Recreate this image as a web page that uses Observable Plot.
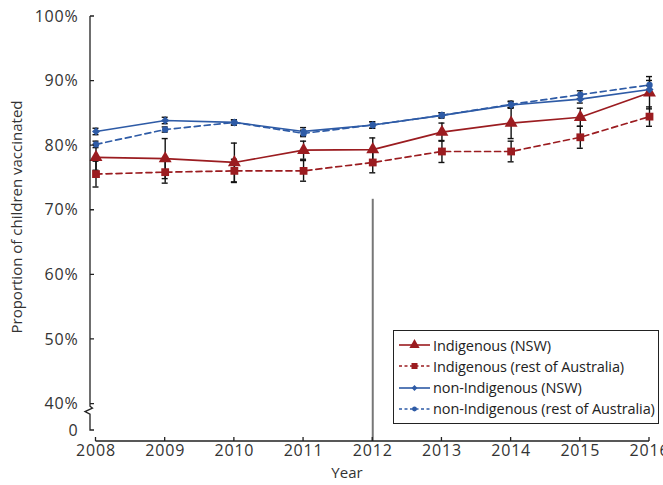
<!DOCTYPE html>
<html>
<head>
<meta charset="utf-8">
<script src="https://cdn.jsdelivr.net/npm/d3@7"></script>
<script src="https://cdn.jsdelivr.net/npm/@observablehq/plot@0.6"></script>
<style>
  html, body { margin: 0; padding: 0; background: #fff; }
  #chart { position: relative; width: 663px; height: 485px; font-family: "Open Sans", sans-serif; color: #222; }
  #chart svg { overflow: visible; }
  .legend { position: absolute; left: 393px; top: 330px; width: 266px; height: 94px;
            border: 1px solid #222; background: #fff; box-sizing: border-box; }
  .legend .row { position: absolute; left: 4px; height: 16px; display: flex; align-items: center;
                 font-size: 14.5px; white-space: nowrap; letter-spacing: -0.1px; }
  .legend svg { margin-right: 1px; }
</style>
</head>
<body>
<div id="chart"></div>
<script>
// Survey years
const years = [2008, 2009, 2010, 2011, 2012, 2013, 2014, 2015, 2016];

// Proportion of children vaccinated (%) and 95% CI half-widths
const indigenousNSW       = [78.2, 78.0, 77.4, 79.3, 79.4, 82.1, 83.5, 84.4, 88.2];
const indigenousNSWci     = [2.0, 3.1, 3.0, 1.4, 1.8, 1.4, 2.4, 1.4, 2.5];
const indigenousRest      = [75.6, 75.9, 76.1, 76.1, 77.4, 79.1, 79.1, 81.3, 84.5];
const indigenousRestCi    = [2.0, 1.7, 1.8, 1.6, 1.6, 1.7, 1.6, 1.7, 1.5];
const nonIndigenousNSW    = [82.2, 83.9, 83.6, 82.2, 83.2, 84.7, 86.3, 87.2, 88.7];
const nonIndigenousNSWci  = [0.5, 0.5, 0.4, 0.6, 0.5, 0.4, 0.5, 0.6, 0.6];
const nonIndigenousRest   = [80.2, 82.5, 83.6, 81.9, 83.2, 84.7, 86.4, 87.9, 89.4];
const nonIndigenousRestCi = [0.5, 0.4, 0.4, 0.5, 0.5, 0.4, 0.5, 0.6, 0.7];

// Axis ticks
const yTicks = [40, 50, 60, 70, 80, 90, 100];
const yTickLabels = ["40%", "50%", "60%", "70%", "80%", "90%", "100%"];
const zeroLabel = "0";

// Marker for the policy change year
const policyYear = 2012;
const policyLineTop = 71.7;

// Broken y axis: everything below 40% is collapsed to a short stub ending at "0"
const yFloor = 34.2;      // level of the x axis
const zeroLevel = 35.9;   // where the "0" is shown
const breakLevel = 38.9;  // centre of the break glyph

const red = "#9b1c20";
const blue = "#2e5ba6";
const ink = "#222";

const series = [
  { name: "Indigenous (NSW)", values: indigenousNSW, ci: indigenousNSWci, color: red, dash: null, symbol: "triangle", r: 4.8, lr: 3.8 },
  { name: "Indigenous (rest of Australia)", values: indigenousRest, ci: indigenousRestCi, color: red, dash: "6,4", symbol: "square", r: 4.4, lr: 3.4 },
  { name: "non-Indigenous (NSW)", values: nonIndigenousNSW, ci: nonIndigenousNSWci, color: blue, dash: null, symbol: "diamond2", r: 3.6, lr: 2.6 },
  { name: "non-Indigenous (rest of Australia)", values: nonIndigenousRest, ci: nonIndigenousRestCi, color: blue, dash: "6,4", symbol: "circle", r: 3.2, lr: 2.4 }
];

const rows = series.flatMap(s => years.map((year, i) => ({
  series: s.name, year, value: s.values[i], lo: s.values[i] - s.ci[i], hi: s.values[i] + s.ci[i]
})));

// Axis lines, ticks and the break glyph, drawn in the plot's own coordinates
function axisFrame(index, scales, values, dims) {
  const x = scales.x, y = scales.y;
  const x0 = dims.marginLeft;
  const yb = dims.height - dims.marginBottom;
  const yBreak = y(breakLevel);
  const g = d3.create("svg:g").attr("fill", "none").attr("stroke", ink).attr("stroke-width", 1.3);
  const p = d3.path();
  p.moveTo(x0, y(100));
  p.lineTo(x0, yBreak - 4.5);
  p.lineTo(x0 + 2.5, yBreak - 2.5);
  p.lineTo(x0 - 5, yBreak + 1);
  p.lineTo(x0, yBreak + 3.5);
  p.lineTo(x0, y(zeroLevel));
  p.lineTo(x0 + 4, y(zeroLevel));
  for (const t of yTicks) { p.moveTo(x0, y(t)); p.lineTo(x0 + 4, y(t)); }
  p.moveTo(x(years[0]), yb); p.lineTo(x(years[years.length - 1]), yb);
  for (const yr of years) { p.moveTo(x(yr), yb); p.lineTo(x(yr), yb - 4); }
  g.append("path").attr("d", p.toString());
  return g.node();
}

const tickFont = { fontSize: 16, fill: "#333" };

const marks = [
  Plot.ruleX([policyYear], { y1: yFloor, y2: policyLineTop, stroke: "#777", strokeWidth: 2 }),
  ...series.map(s => Plot.line(rows.filter(d => d.series === s.name), {
    x: "year", y: "value", stroke: s.color, strokeWidth: 1.7, strokeDasharray: s.dash
  })),
  Plot.ruleX(rows, { x: "year", y1: "lo", y2: "hi", stroke: "#111", strokeWidth: 1.4 }),
  Plot.ruleY(rows, { y: "lo", x1: "year", x2: "year", insetLeft: -3, insetRight: -3, stroke: "#111", strokeWidth: 1.4 }),
  Plot.ruleY(rows, { y: "hi", x1: "year", x2: "year", insetLeft: -3, insetRight: -3, stroke: "#111", strokeWidth: 1.4 }),
  ...series.map(s => Plot.dot(rows.filter(d => d.series === s.name), {
    x: "year", y: "value", symbol: () => s.symbol, r: s.r, fill: s.color, stroke: "none"
  })),
  axisFrame,
  Plot.text(yTicks, { y: d => d, text: (d, i) => yTickLabels[i], frameAnchor: "left", dx: -12, textAnchor: "end", ...tickFont }),
  Plot.text([zeroLevel], { y: d => d, text: () => zeroLabel, frameAnchor: "left", dx: -12, textAnchor: "end", ...tickFont }),
  Plot.text(years, { x: d => d, text: d => String(d), frameAnchor: "bottom", dy: 14, ...tickFont }),
  Plot.text(["Year"], { frameAnchor: "bottom", dx: -23, dy: 36, fontSize: 15, fill: "#333" }),
  Plot.text(["Proportion of children vaccinated"], { frameAnchor: "left", textAnchor: "middle", rotate: -90, dx: -73, dy: -12, fontSize: 15, fill: "#333" })
];

const chart = Plot.plot({
  width: 663,
  height: 485,
  marginLeft: 90,
  marginRight: 14,
  marginTop: 16,
  marginBottom: 44,
  x: { domain: [2008, 2016], range: [95.5, 649], axis: null },
  y: { domain: [yFloor, 100], axis: null },
  symbol: { type: "identity" },
  style: { fontFamily: "'Open Sans', sans-serif", background: "#fff" },
  marks
});

// Numeric tick labels are set slightly wider
d3.select(chart).selectAll("text")
  .filter(function () { return /^[\d%]+$/.test(this.textContent); })
  .attr("letter-spacing", "0.8px");

const root = document.getElementById("chart");
root.appendChild(chart);

// Legend box
const legend = d3.select(root).append("div").attr("class", "legend");
series.forEach((s, i) => {
  const row = legend.append("div").attr("class", "row").style("top", `${6 + i * 21.3}px`);
  const sw = row.append("svg").attr("width", 34).attr("height", 12);
  sw.append("line").attr("x1", 1).attr("x2", 32).attr("y1", 6).attr("y2", 6)
    .attr("stroke", s.color).attr("stroke-width", 1.6)
    .attr("stroke-dasharray", s.dash ? "3,2.5" : null);
  const sym = { triangle: d3.symbolTriangle, square: d3.symbolSquare, diamond2: d3.symbolDiamond2, circle: d3.symbolCircle }[s.symbol];
  sw.append("path").attr("d", d3.symbol(sym, Math.PI * s.lr * s.lr)())
    .attr("transform", "translate(16.5,6)").attr("fill", s.color);
  row.append("span").text(s.name);
});
</script>
</body>
</html>
